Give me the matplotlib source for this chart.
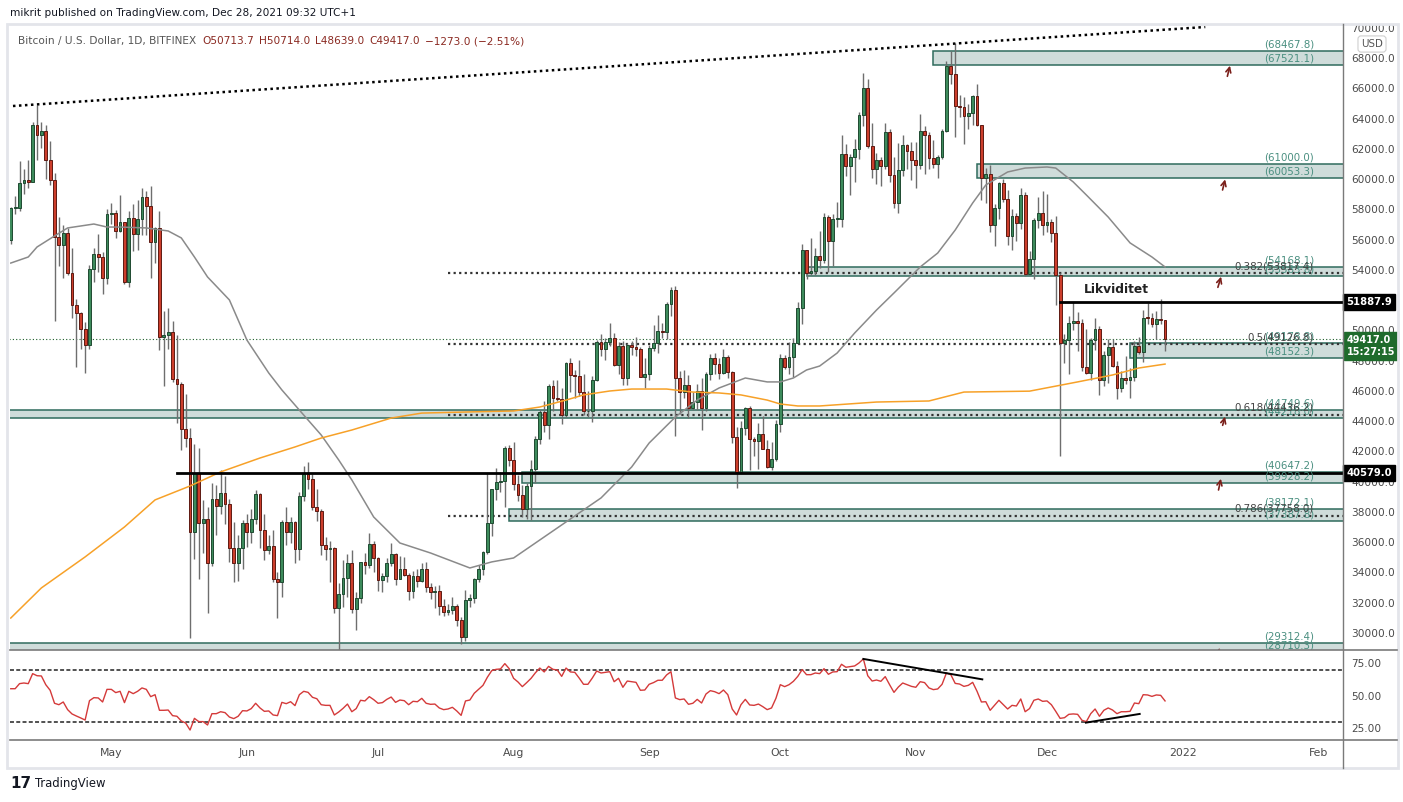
import numpy as np
import pandas as pd
import matplotlib
matplotlib.use("Agg")
import matplotlib.pyplot as plt
import matplotlib.transforms as mtransforms
from matplotlib.patches import FancyArrowPatch, Rectangle
from matplotlib.lines import Line2D
from matplotlib.ticker import FuncFormatter

plt.rcParams['font.family'] = ['DejaVu Sans']

W, H = 1403, 802

# BTC/USD 1D, Bitfinex, 2021-04-08 .. 2021-12-28 (open = previous close)
start = pd.Timestamp("2021-04-08")
first_open = 56000.0

closes = [
    # Apr 8-30
    58090, 58100, 59780, 59980, 59850, 63560, 62920, 63200, 61300, 59950,
    56200, 55650, 56450, 53800, 51700, 51150, 50100, 49050, 54050, 55050,
    54850, 53500, 57700,
    # May
    57800, 56550, 57150, 53200, 57450, 56400, 57400, 58850, 58250, 55850,
    56750, 49550, 49700, 49900, 46800, 46450, 43500, 42900, 36700, 40580,
    37270, 37550, 34630, 38850, 38400, 39250, 38500, 35650, 34600, 35650,
    37300,
    # Jun
    36700, 37550, 39200, 36800, 35500, 35750, 33550, 33400, 37350, 36650,
    37350, 35550, 39050, 40500, 40150, 38300, 38050, 35800, 35550, 35650,
    31650, 32550, 33650, 34650, 31600, 32300, 34700, 34500, 35900, 34950,
    # Jul
    33500, 33800, 34650, 35250, 33600, 34250, 33850, 32800, 33800, 33450,
    34200, 33050, 32700, 32800, 31800, 31400, 31550, 31800, 30850, 29750,
    32150, 32300, 33600, 34250, 35350, 37300, 39500, 40000, 40050, 42200,
    41450,
    # Aug
    39850, 39150, 38200, 39750, 40850, 42850, 44600, 43750, 46300, 45550,
    45500, 44400, 47850, 47050, 47000, 45950, 44650, 44700, 46750, 49250,
    48800, 49250, 49500, 47700, 48950, 46850, 49050, 48900, 48800, 46950,
    47150,
    # Sep
    48850, 49200, 49950, 49900, 51750, 52700, 46850, 45950, 46400, 44850,
    45300, 46000, 44900, 47100, 48150, 47800, 47200, 48250, 47250, 42950,
    40650, 43550, 44900, 42800, 42700, 43150, 42150, 41000, 41500, 43800,
    # Oct
    48150, 47600, 48250, 49200, 51500, 55300, 53800, 53950, 54950, 54650,
    57500, 55950, 57350, 57350, 61650, 60850, 61500, 62000, 64250, 66050,
    62200, 60700, 61300, 60850, 63100, 60300, 58450, 60600, 62250, 61850,
    61300,
    # Nov
    60950, 63200, 62950, 61400, 61000, 61500, 63200, 67500, 66950, 64850,
    64800, 64150, 64400, 65500, 63600, 60100, 60350, 56950, 58100, 59750,
    58700, 56250, 57550, 57100, 58950, 53750, 54750, 57300, 57800, 56950,
    # Dec 1-28
    57200, 56450, 53650, 49200, 49400, 50500, 50600, 50500, 47600, 47200,
    49400, 50100, 46750, 48400, 48900, 47650, 46200, 46850, 46700, 46900,
    48950, 48600, 50850, 50800, 50450, 50780, 50713.7, 49417.0,
]

highs = [
    58150, 58870, 61220, 60700, 61250, 63770, 64900, 63800, 63600, 62550,
    60400, 57500, 57000, 56800, 55450, 52100, 51200, 50550, 54350, 55450,
    56400, 55200, 58000,
    58450, 57950, 58950, 57200, 57900, 58350, 58650, 59450, 59250, 59550,
    56850, 57900, 51300, 51500, 50650, 49700, 46600, 45800, 43550, 42500,
    42200, 38800, 38300, 39900, 39800, 40800, 40400, 38850, 37350, 36450,
    37500,
    37850, 38200, 39450, 39250, 37900, 36450, 36800, 34050, 37450, 38300,
    37650, 37400, 39300, 41050, 41300, 40500, 39550, 38200, 36350, 36050,
    35700, 33300, 34800, 35250, 35500, 32700, 34700, 35300, 36600, 36050,
    35050, 33950, 34950, 35950, 35300, 35100, 35050, 33950, 34100, 34250,
    34600, 34700, 33300, 33100, 33200, 32250, 31950, 32400, 31900, 31050,
    32850, 32600, 33650, 34500, 35400, 40550, 39550, 40900, 40650, 42350,
    42400,
    42600, 40450, 39800, 39950, 41450, 43050, 44750, 45350, 46450, 46700,
    46750, 46200, 47900, 48150, 47400, 48050, 47150, 46000, 47000, 49350,
    49750, 49500, 50500, 49850, 49250, 49300, 49150, 49300, 49600, 48900,
    48150,
    49050, 50350, 51000, 50500, 51900, 52900, 52950, 47350, 47400, 47050,
    45950, 46450, 46850, 47250, 48450, 48500, 48150, 48800, 48350, 47350,
    43600, 44000, 44950, 45000, 42950, 43900, 44350, 42750, 42600, 44100,
    48450, 48350, 49250, 49500, 51900, 55750, 55350, 56100, 55450, 56550,
    57800, 57650, 57700, 58500, 62900, 62300, 61700, 62650, 64450, 67000,
    66650, 63700, 61750, 61450, 63700, 63300, 61450, 62400, 62950, 62350,
    62450,
    62450, 64300, 63500, 63100, 62600, 61600, 63300, 67800, 68500, 69000,
    65600, 65450, 64950, 65550, 66300, 63600, 60750, 60950, 58350, 59850,
    60000, 59300, 58000, 57800, 59400, 59150, 55250, 57450, 58850, 59200,
    59050, 57400, 57600, 53800, 49750, 50950, 51900, 51200, 50750, 50100,
    49500, 50800, 50300, 48650, 49450, 49450, 48000, 47300, 48300, 47500,
    49300, 49550, 51350, 51850, 51150, 51300, 52050, 50714,
]

lows = [
    55700, 57690, 57900, 59000, 59400, 59850, 61300, 62050, 60000, 59600,
    50600, 54250, 53450, 53650, 50800, 47600, 48800, 47200, 48800, 53200,
    53900, 52400, 53100,
    57050, 56100, 56500, 53050, 52900, 55250, 55300, 56300, 56300, 53500,
    54450, 48700, 46300, 48800, 46600, 43900, 42100, 42300, 29700, 34900,
    33600, 35300, 31300, 34400, 36450, 37900, 37200, 34700, 33400, 33450,
    34200,
    35700, 35950, 37200, 35600, 34850, 35250, 33400, 31000, 32400, 35800,
    35950, 34650, 34800, 38750, 39500, 38100, 37400, 35150, 34850, 33350,
    31300, 28800, 31700, 32350, 31300, 30200, 32000, 33900, 34300, 34050,
    32750, 32700, 33350, 34450, 33150, 33600, 33800, 32150, 32300, 33050,
    33350, 32700, 32250, 31650, 31200, 31100, 31200, 31250, 30450, 29300,
    29500, 31700, 32000, 33400, 33850, 35250, 36400, 38800, 39300, 38350,
    41050,
    39450, 38700, 37650, 37550, 37450, 39900, 42500, 43300, 42850, 44650,
    45350, 43800, 44250, 45950, 45550, 45700, 44400, 44300, 43950, 46650,
    48300, 48050, 49000, 47650, 47150, 46400, 46400, 48400, 48300, 46900,
    46200,
    46700, 48650, 48500, 49500, 49450, 50950, 43000, 44450, 45550, 44200,
    44750, 44750, 43400, 44700, 46750, 47100, 46800, 47100, 46850, 42550,
    39600, 40550, 43100, 40800, 41700, 40850, 42150, 40900, 40800, 41400,
    43300, 47450, 47100, 46950, 49100, 50400, 53400, 53650, 53650, 54100,
    54450, 53850, 54250, 56850, 56850, 60200, 58950, 59850, 61350, 63500,
    62050, 60050, 59700, 59550, 60700, 59850, 58100, 57800, 60200, 60700,
    59950,
    59450, 60700, 60350, 60700, 60750, 60100, 61350, 63100, 66300, 62800,
    64100, 62300, 63350, 63600, 63500, 58600, 58450, 56500, 55600, 57400,
    58500, 55650, 55350, 55900, 56700, 53600, 53650, 53400, 56800, 56300,
    56500, 55850, 51700, 41700, 47850, 47100, 50050, 48650, 47350, 47150,
    46700, 48700, 45750, 46300, 46550, 47600, 45500, 45950, 46450, 45550,
    46650, 48450, 47950, 50450, 50200, 49450, 50450, 48639,
]

rsi_vals = [
    55.6, 55.6, 59.5, 60.0, 59.5, 67.2, 65.6, 65.4, 58.7, 54.4,
    44.4, 43.3, 45.4, 39.5, 36.2, 34.6, 33.1, 31.5, 46.4, 48.7,
    48.5, 45.4, 55.1, 55.1, 52.6, 53.6, 44.9, 53.6, 51.8, 53.6,
    56.2, 55.1, 49.5, 51.0, 39.0, 39.0, 39.2, 34.9, 34.4, 30.8,
    29.2, 23.8, 32.8, 30.3, 30.3, 27.7, 36.4, 36.4, 37.9, 37.2,
    33.8, 32.6, 34.4, 38.7, 38.5, 40.3, 44.4, 40.8, 38.2, 38.5,
    35.4, 34.9, 45.1, 44.1, 45.6, 42.6, 51.0, 53.6, 52.8, 49.0,
    47.9, 43.3, 42.8, 42.8, 35.4, 37.7, 40.5, 43.8, 37.9, 40.3,
    46.7, 46.2, 49.5, 47.2, 44.4, 44.9, 47.4,
    49.2, 45.1, 46.9, 46.4, 43.3, 45.9, 45.6, 48.2, 44.4, 43.6,
    43.8, 40.8, 39.5, 40.0, 41.3, 38.5, 35.1, 46.2, 46.9, 52.1,
    55.1, 58.2, 64.4, 69.5, 70.5, 70.8, 74.9, 71.0, 63.6, 60.8,
    57.2, 60.3, 63.6, 67.9, 71.5, 68.5, 72.8, 70.5, 70.0, 65.1,
    71.5, 68.5, 68.2, 63.8, 59.0, 59.0, 63.8, 69.2, 67.7, 68.2,
    68.7, 61.0, 63.6, 56.7, 61.5, 61.0, 60.5, 54.4, 54.6, 59.0,
    60.3, 62.1, 62.1, 66.2, 68.7, 48.5, 47.2, 47.7, 43.6, 44.4,
    47.4, 44.6, 51.5, 54.1, 53.3, 51.8, 54.6, 51.0, 40.0, 35.4,
    43.3, 47.4, 43.1, 42.8, 43.8, 41.8, 39.5, 40.8, 48.2,
    58.7, 57.2, 58.7, 61.3, 65.1, 70.3, 66.4, 66.4, 67.7, 67.2,
    71.0, 66.7, 68.5, 68.7, 74.4, 72.1, 72.6, 73.1, 75.4, 78.5,
    65.6, 61.5, 62.3, 61.3, 64.9, 58.7, 52.8, 56.9, 60.0, 58.7,
    57.4, 56.7, 61.0, 60.3, 56.2, 54.9, 55.4, 59.0, 67.7, 66.4,
    59.7, 59.2, 57.4, 58.2, 60.5, 53.6, 45.4, 45.6, 39.0, 42.8,
    46.7, 43.3, 40.0, 42.8, 42.3, 47.7, 37.9, 40.3, 46.7, 47.7,
    45.9, 46.2, 43.3, 38.2, 32.8, 33.3, 35.9, 36.2, 35.9, 31.3,
    30.3, 36.4, 40.0, 34.4, 39.0, 40.8, 39.2, 36.4, 37.9, 37.9,
    38.2, 44.6, 44.1, 51.0, 50.8, 49.7, 50.8, 50.5, 46.2,
]

# moving averages
sma50_dates = ["2021-04-08", "2021-04-12", "2021-04-14", "2021-04-18", "2021-04-21",
               "2021-04-24", "2021-04-27", "2021-04-30", "2021-05-03", "2021-05-09",
               "2021-05-14", "2021-05-17", "2021-05-20", "2021-05-23", "2021-05-28",
               "2021-06-01", "2021-06-06", "2021-06-09", "2021-06-13", "2021-06-18",
               "2021-06-22", "2021-06-25", "2021-06-30", "2021-07-06", "2021-07-13",
               "2021-07-22", "2021-07-27", "2021-08-01", "2021-08-21", "2021-08-28",
               "2021-09-01", "2021-09-07", "2021-09-12", "2021-09-17", "2021-09-23",
               "2021-09-28", "2021-10-01", "2021-10-04", "2021-10-07", "2021-10-10",
               "2021-10-14", "2021-10-18", "2021-10-23", "2021-10-27", "2021-11-02",
               "2021-11-06", "2021-11-10", "2021-11-14", "2021-11-17", "2021-11-22",
               "2021-11-26", "2021-12-01", "2021-12-03", "2021-12-07", "2021-12-10",
               "2021-12-15", "2021-12-20", "2021-12-25", "2021-12-28"]
sma50_vals = [54460, 54860, 55520, 56250, 56780, 56910, 57040, 56840, 56840, 56780,
              56580, 56120, 54860, 53540, 52020, 49370, 47190, 46070, 44740, 43090,
              41440, 40120, 37670, 35950, 35290, 34300, 34700, 34960, 38930, 40975,
              42560, 44280, 45400, 46200, 46860, 46600, 46600, 46860, 47390, 47650,
              48510, 49830, 51350, 52480, 54200, 55120, 56640, 58430, 59620, 60480,
              60740, 60810, 60740, 59820, 58960, 57500, 55790, 54860, 54200]

sma200_dates = ["2021-04-08", "2021-04-15", "2021-04-25", "2021-05-04", "2021-05-11",
                "2021-05-19", "2021-05-26", "2021-06-04", "2021-06-12", "2021-06-18",
                "2021-06-25", "2021-07-04", "2021-07-11", "2021-07-21", "2021-08-01",
                "2021-08-07", "2021-08-13", "2021-08-17", "2021-08-23", "2021-08-28",
                "2021-09-05", "2021-09-11", "2021-09-17", "2021-09-22", "2021-09-28",
                "2021-10-01", "2021-10-05", "2021-10-10", "2021-10-23", "2021-11-04",
                "2021-11-12", "2021-11-27", "2021-12-08", "2021-12-16", "2021-12-22",
                "2021-12-28"]
sma200_vals = [30990, 32980, 35030, 37010, 38800, 39720, 40650, 41570, 42300, 42890,
               43420, 44210, 44540, 44610, 44680, 44940, 45400, 45740, 46000, 46130,
               46130, 45930, 45870, 45740, 45400, 45140, 45010, 45010, 45270, 45340,
               45930, 45990, 46600, 47060, 47520, 47780]

# drawn levels
zone_starts = ["2021-11-05", "2021-11-15", "2021-10-07", "2021-12-20",
               None, "2021-08-03", "2021-07-31", None]
zone_bottoms = [67521.1, 60053.3, 53583.8, 48152.3, 44218.0, 39928.2, 37387.8, 28710.3]
zone_tops = [68467.8, 61000.0, 54168.1, 49178.8, 44749.6, 40647.2, 38172.1, 29312.4]

fib_ratios = ["0.382", "0.5", "0.618", "0.786"]
fib_prices = [53817.4, 49126.8, 44436.2, 37758.0]
fib_start = "2021-07-17"

hlines_price = [40579.0, 51887.9]
hlines_start = ["2021-05-16", "2021-12-04"]

last_price = 49417.0

assert len(closes) == len(highs) == len(lows) == len(rsi_vals) == 265


def day(s):
    return (pd.Timestamp(s) - start) / pd.Timedelta(days=1)


fig = plt.figure(figsize=(W / 100, H / 100), dpi=100)
fig.patch.set_facecolor("white")


def fx(px):
    return px / W


def fy(py):
    return 1 - py / H


ax = fig.add_axes([fx(10), fy(650), (1343 - 10) / W, (650 - 25) / H])
ax2 = fig.add_axes([fx(10), fy(740), (1343 - 10) / W, (740 - 650) / H], sharex=ax)

x = np.arange(len(closes))
c = np.array(closes, dtype=float)
o = np.concatenate([[first_open], c[:-1]])
hi = np.array(highs, dtype=float)
lo = np.array(lows, dtype=float)
up = c >= o

# zones
for zs, zb, zt in zip(zone_starts, zone_bottoms, zone_tops):
    x0 = -5 if zs is None else day(zs)
    ax.add_patch(Rectangle((x0, zb), 400, zt - zb, facecolor="#cfdcda",
                           edgecolor="#2f6b5d", lw=1.1, zorder=1))

# fib levels
for fp in fib_prices:
    ax.plot([day(fib_start), 400], [fp, fp], color="#333333", lw=1.6,
            linestyle=(0, (1, 1.5)), zorder=2)

# current price line
ax.plot([-5, 400], [last_price, last_price], color="#1d5e2a", lw=0.8,
        linestyle=(0, (1, 2)), zorder=2)

# candles
ax.vlines(x, lo, hi, color="#6e6e6e", lw=1, zorder=3)
body = np.maximum(np.abs(c - o), 60)
bot = np.minimum(o, c)
ax.bar(x[up], body[up], bottom=bot[up], width=0.64, color="#3d8b5c",
       edgecolor="#1f4a31", lw=0.7, zorder=4)
ax.bar(x[~up], body[~up], bottom=bot[~up], width=0.64, color="#cc3e2c",
       edgecolor="#5e1a12", lw=0.7, zorder=4)

# moving averages
ax.plot([day(s) for s in sma50_dates], sma50_vals, color="#8a8a8a", lw=1.1, zorder=5)
ax.plot([day(s) for s in sma200_dates], sma200_vals, color="#f7a128", lw=1.1, zorder=5)

# top trendline
ax.plot([0.5, 273.2], [64843, 70066], color="black", lw=1.8,
        linestyle=(0, (1, 1.4)), zorder=6)

# black levels
for hp, hs in zip(hlines_price, hlines_start):
    ax.plot([day(hs), 400], [hp, hp], color="black", lw=2, zorder=6)

ax.text(252.8, 52678, "Likviditet", ha="center", va="center", fontsize=8.8,
        fontweight="bold", color="#222222", zorder=7)

# arrows
arrow_tail_x = [278.1, 277.0, 275.9, 277.0, 276.1, 275.9]
arrow_tail_y = [66628, 59112, 52678, 43554, 39276, 28420]
arrow_head_x = [279.0, 277.9, 277.0, 277.9, 276.9, 276.7]
arrow_head_y = [67686, 60170, 53736, 44479, 40380, 29200]
for tx, ty, hx, hy in zip(arrow_tail_x, arrow_tail_y, arrow_head_x, arrow_head_y):
    ax.add_patch(FancyArrowPatch((tx, ty), (hx, hy), arrowstyle="->",
                                 mutation_scale=9, color="#7a1f1a", lw=1.2, zorder=7))

# level labels
yb = mtransforms.blended_transform_factory(ax.transAxes, ax.transData)
lab_x = (1314 - 10) / 1333
for zb, zt in zip(zone_bottoms, zone_tops):
    for v in (zt, zb):
        ax.annotate(f"({v:.1f})", xy=(lab_x, v), xycoords=yb, xytext=(0, 1.2),
                    textcoords="offset points", ha="right", va="bottom",
                    fontsize=7.4, color="#4a8f80", zorder=8, annotation_clip=False)
for fr, fp in zip(fib_ratios, fib_prices):
    ax.annotate(f"{fr}({fp:.1f})", xy=(lab_x, fp), xycoords=yb, xytext=(0, 1.2),
                textcoords="offset points", ha="right", va="bottom",
                fontsize=7.4, color="#444444", zorder=8, annotation_clip=False)

# axes setup
ax.set_xlim(-0.18, 304.7)
ax.set_ylim(28876, 70198)
ax2.set_ylim(16.15, 85.38)
for a in (ax, ax2):
    for s in a.spines.values():
        s.set_visible(False)
    a.yaxis.tick_right()
    a.tick_params(axis="y", length=0, pad=6, labelsize=7.6, labelcolor="#4a4a4a")
ax.set_yticks(np.arange(30000, 70001, 2000))
ax.yaxis.set_major_formatter(FuncFormatter(lambda v, p: f"{v:.1f}"))
ax.tick_params(axis="x", bottom=False, labelbottom=False)
ax2.set_yticks([25, 50, 75])
ax2.yaxis.set_major_formatter(FuncFormatter(lambda v, p: f"{v:.2f}"))

month_ticks = ["2021-05-01", "2021-06-01", "2021-07-01", "2021-08-01", "2021-09-01",
               "2021-10-01", "2021-11-01", "2021-12-01", "2022-01-01", "2022-02-01"]
month_labels = ["May", "Jun", "Jul", "Aug", "Sep", "Oct", "Nov", "Dec", "2022", "Feb"]
ax2.set_xticks([day(m) for m in month_ticks])
ax2.set_xticklabels(month_labels)
ax2.tick_params(axis="x", length=0, pad=6, labelsize=7.8, labelcolor="#4a4a4a")

# RSI pane
ax2.plot(x, rsi_vals, color="#d43a3a", lw=1.0, zorder=4)
for lvl in (70, 30):
    ax2.axhline(lvl, color="#222222", lw=1.1, linestyle=(0, (2.6, 1.5)), zorder=2)
ax2.plot([195, 222.2], [78.5, 62.8], color="black", lw=1.4, zorder=5)
ax2.plot([245.9, 258.2], [29.5, 36.2], color="black", lw=1.4, zorder=5)

# price tags on the scale
for hp in hlines_price:
    ax.annotate(f"{hp:.1f}", xy=(1, hp), xycoords=yb, xytext=(2.5, 0),
                textcoords="offset points", ha="left", va="center", fontsize=7.2,
                fontweight="bold", color="white", zorder=10, annotation_clip=False,
                bbox=dict(boxstyle="square,pad=0.3", fc="black", ec="black"))
ax.annotate(f"{last_price:.1f}\n15:27:15", xy=(1, last_price), xycoords=yb,
            xytext=(2.5, -5), textcoords="offset points", ha="left", va="center",
            fontsize=7.0, fontweight="bold", color="white", zorder=10,
            annotation_clip=False, linespacing=1.3,
            bbox=dict(boxstyle="square,pad=0.3", fc="#1f6b2c", ec="#1f6b2c"))

# frame and separators
fig.add_artist(Rectangle((fx(7), fy(768)), (1398 - 7) / W, (768 - 24) / H,
                         transform=fig.transFigure, fill=False, ec="#e3e5ea", lw=2))
for yy in (650, 740):
    fig.add_artist(Line2D([fx(10), fx(1397)], [fy(yy), fy(yy)], transform=fig.transFigure,
                          color="#7a7a7a", lw=1.2))
fig.add_artist(Line2D([fx(1343), fx(1343)], [fy(24), fy(768)], transform=fig.transFigure,
                      color="#7a7a7a", lw=1.0))

fig.text(fx(1372), fy(44), "USD", ha="center", va="center", fontsize=7.4, color="#555555",
         bbox=dict(boxstyle="round,pad=0.3", fc="white", ec="#cfcfcf", lw=0.8))

# header
fig.text(fx(10), fy(13), "mikrit published on TradingView.com, Dec 28, 2021 09:32 UTC+1",
         fontsize=7.6, color="#131722", va="center")
renderer = fig.canvas.get_renderer()
red = "#8b2a22"
pieces = [("Bitcoin / U.S. Dollar, 1D, BITFINEX", "#555555", 6),
          ("O50713.7", red, 5), ("H50714.0", red, 5), ("L48639.0", red, 5),
          ("C49417.0", red, 5), ("\u22121273.0 (\u22122.51%)", red, 0)]
px = 18
for s, col, gap in pieces:
    t = fig.text(fx(px), fy(41), s, fontsize=7.6, color=col, va="center")
    px += t.get_window_extent(renderer=renderer).width + gap

# footer logo
fig.text(fx(10), fy(783), "17", fontsize=11, fontweight="heavy", color="#131722", va="center")
fig.text(fx(35), fy(783), "TradingView", fontsize=8.4, color="#131722", va="center")

fig.savefig("out.png", dpi=100)
